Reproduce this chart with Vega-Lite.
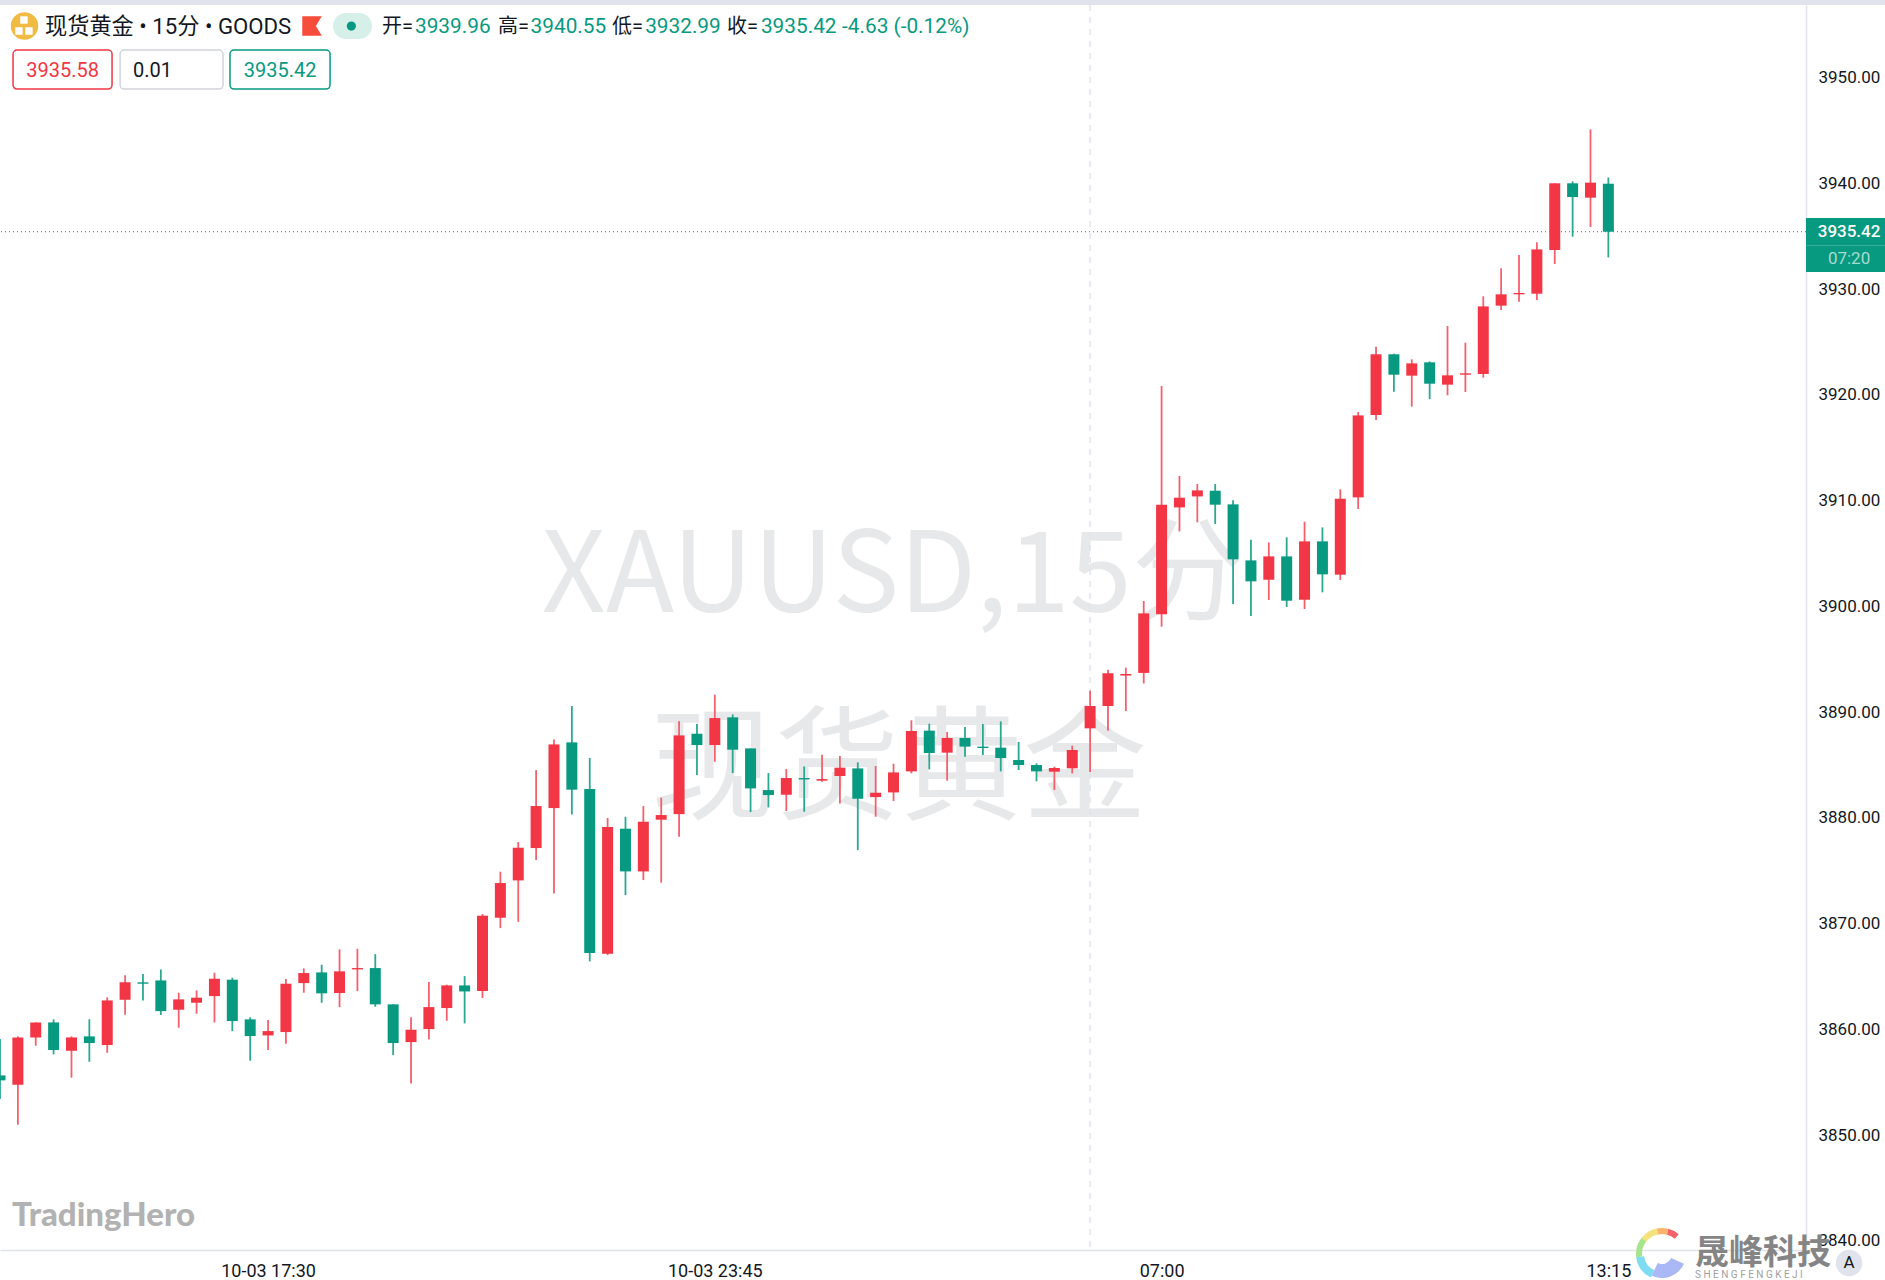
{"$schema":"https://vega.github.io/schema/vega-lite/v6.json","width":1806,"height":1245,"autosize":"none","padding":{"top":5,"left":0,"right":79,"bottom":30},"background":"white","config":{"view":{"stroke":null}},
"data":{"values":[{}]},
"datasets":{"candles":[
{"bar":0,"open":3855.64,"high":3859.08,"low":3853.40,"close":3855.17},
{"bar":1,"open":3854.76,"high":3859.33,"low":3850.98,"close":3859.23},
{"bar":2,"open":3859.23,"high":3860.65,"low":3858.45,"close":3860.65},
{"bar":3,"open":3860.65,"high":3860.94,"low":3857.63,"close":3858.04},
{"bar":4,"open":3857.97,"high":3859.33,"low":3855.42,"close":3859.23},
{"bar":5,"open":3859.33,"high":3860.94,"low":3856.93,"close":3858.70},
{"bar":6,"open":3858.51,"high":3863.02,"low":3857.78,"close":3862.73},
{"bar":7,"open":3862.80,"high":3865.10,"low":3861.38,"close":3864.44},
{"bar":8,"open":3864.44,"high":3865.22,"low":3862.73,"close":3864.31},
{"bar":9,"open":3864.62,"high":3865.66,"low":3861.35,"close":3861.72},
{"bar":10,"open":3861.85,"high":3863.46,"low":3860.15,"close":3862.83},
{"bar":11,"open":3862.51,"high":3863.68,"low":3861.47,"close":3862.99},
{"bar":12,"open":3863.14,"high":3865.35,"low":3860.65,"close":3864.78},
{"bar":13,"open":3864.69,"high":3864.88,"low":3859.83,"close":3860.78},
{"bar":14,"open":3860.94,"high":3861.13,"low":3857.03,"close":3859.36},
{"bar":15,"open":3859.42,"high":3860.87,"low":3858.04,"close":3859.83},
{"bar":16,"open":3859.74,"high":3864.75,"low":3858.64,"close":3864.31},
{"bar":17,"open":3864.37,"high":3865.76,"low":3863.46,"close":3865.32},
{"bar":18,"open":3865.38,"high":3866.11,"low":3862.51,"close":3863.40},
{"bar":19,"open":3863.43,"high":3867.56,"low":3862.10,"close":3865.48},
{"bar":20,"open":3865.66,"high":3867.62,"low":3863.62,"close":3865.79},
{"bar":21,"open":3865.79,"high":3867.11,"low":3862.13,"close":3862.36},
{"bar":22,"open":3862.36,"high":3862.36,"low":3857.56,"close":3858.70},
{"bar":23,"open":3858.79,"high":3861.13,"low":3854.88,"close":3859.96},
{"bar":24,"open":3860.02,"high":3864.47,"low":3859.05,"close":3862.10},
{"bar":25,"open":3862.01,"high":3864.22,"low":3860.81,"close":3864.15},
{"bar":26,"open":3864.15,"high":3865.03,"low":3860.56,"close":3863.58},
{"bar":27,"open":3863.62,"high":3870.90,"low":3862.95,"close":3870.74},
{"bar":28,"open":3870.55,"high":3874.90,"low":3869.57,"close":3873.83},
{"bar":29,"open":3874.08,"high":3877.71,"low":3870.17,"close":3877.17},
{"bar":30,"open":3877.14,"high":3884.51,"low":3876.00,"close":3881.11},
{"bar":31,"open":3880.92,"high":3887.41,"low":3872.85,"close":3886.94},
{"bar":32,"open":3887.13,"high":3890.57,"low":3880.32,"close":3882.66},
{"bar":33,"open":3882.72,"high":3885.65,"low":3866.42,"close":3867.21},
{"bar":34,"open":3867.15,"high":3879.98,"low":3867.02,"close":3879.12},
{"bar":35,"open":3878.97,"high":3880.10,"low":3872.69,"close":3874.93},
{"bar":36,"open":3874.93,"high":3881.11,"low":3874.11,"close":3879.63},
{"bar":37,"open":3879.82,"high":3881.90,"low":3873.86,"close":3880.26},
{"bar":38,"open":3880.35,"high":3889.12,"low":3878.21,"close":3887.79},
{"bar":39,"open":3887.95,"high":3888.86,"low":3884.04,"close":3886.88},
{"bar":40,"open":3886.88,"high":3891.64,"low":3885.30,"close":3889.43},
{"bar":41,"open":3889.50,"high":3889.78,"low":3884.23,"close":3886.44},
{"bar":42,"open":3886.56,"high":3886.56,"low":3880.54,"close":3882.78},
{"bar":43,"open":3882.62,"high":3884.23,"low":3880.98,"close":3882.15},
{"bar":44,"open":3882.18,"high":3884.61,"low":3880.64,"close":3883.76},
{"bar":45,"open":3883.76,"high":3884.86,"low":3880.57,"close":3883.63},
{"bar":46,"open":3883.51,"high":3885.97,"low":3883.41,"close":3883.66},
{"bar":47,"open":3883.95,"high":3885.84,"low":3881.36,"close":3884.74},
{"bar":48,"open":3884.67,"high":3885.24,"low":3876.95,"close":3881.80},
{"bar":49,"open":3881.96,"high":3884.89,"low":3880.10,"close":3882.37},
{"bar":50,"open":3882.40,"high":3885.11,"low":3881.58,"close":3884.29},
{"bar":51,"open":3884.39,"high":3889.22,"low":3884.20,"close":3888.21},
{"bar":52,"open":3888.24,"high":3888.90,"low":3884.58,"close":3886.13},
{"bar":53,"open":3886.16,"high":3888.11,"low":3883.51,"close":3887.55},
{"bar":54,"open":3887.55,"high":3888.59,"low":3885.78,"close":3886.73},
{"bar":55,"open":3886.73,"high":3888.87,"low":3885.94,"close":3886.60},
{"bar":56,"open":3886.63,"high":3889.12,"low":3884.39,"close":3885.65},
{"bar":57,"open":3885.46,"high":3887.17,"low":3884.52,"close":3884.99},
{"bar":58,"open":3884.99,"high":3885.15,"low":3883.45,"close":3884.39},
{"bar":59,"open":3884.36,"high":3884.83,"low":3882.63,"close":3884.71},
{"bar":60,"open":3884.68,"high":3886.82,"low":3884.20,"close":3886.41},
{"bar":61,"open":3888.46,"high":3892.02,"low":3884.33,"close":3890.57},
{"bar":62,"open":3890.57,"high":3894.00,"low":3888.24,"close":3893.67},
{"bar":63,"open":3893.45,"high":3894.20,"low":3890.10,"close":3893.60},
{"bar":64,"open":3893.70,"high":3900.50,"low":3892.70,"close":3899.33},
{"bar":65,"open":3899.24,"high":3920.83,"low":3898.07,"close":3909.61},
{"bar":66,"open":3909.35,"high":3912.32,"low":3907.08,"close":3910.27},
{"bar":67,"open":3910.39,"high":3911.56,"low":3907.94,"close":3910.96},
{"bar":68,"open":3910.93,"high":3911.56,"low":3907.78,"close":3909.61},
{"bar":69,"open":3909.64,"high":3910.02,"low":3900.21,"close":3904.44},
{"bar":70,"open":3904.34,"high":3906.30,"low":3899.08,"close":3902.36},
{"bar":71,"open":3902.51,"high":3906.04,"low":3900.59,"close":3904.72},
{"bar":72,"open":3904.72,"high":3906.52,"low":3899.93,"close":3900.53},
{"bar":73,"open":3900.62,"high":3908.00,"low":3899.74,"close":3906.14},
{"bar":74,"open":3906.14,"high":3907.46,"low":3901.32,"close":3903.02},
{"bar":75,"open":3902.99,"high":3911.06,"low":3902.48,"close":3910.17},
{"bar":76,"open":3910.30,"high":3918.37,"low":3909.20,"close":3918.05},
{"bar":77,"open":3918.09,"high":3924.55,"low":3917.62,"close":3923.83},
{"bar":78,"open":3923.83,"high":3923.89,"low":3920.29,"close":3921.90},
{"bar":79,"open":3921.81,"high":3923.35,"low":3918.88,"close":3922.97},
{"bar":80,"open":3923.07,"high":3923.16,"low":3919.60,"close":3921.05},
{"bar":81,"open":3920.96,"high":3926.50,"low":3919.95,"close":3921.84},
{"bar":82,"open":3921.90,"high":3924.93,"low":3920.26,"close":3922.03},
{"bar":83,"open":3921.97,"high":3929.31,"low":3921.62,"close":3928.36},
{"bar":84,"open":3928.43,"high":3931.96,"low":3928.02,"close":3929.50},
{"bar":85,"open":3929.50,"high":3933.22,"low":3928.81,"close":3929.63},
{"bar":86,"open":3929.56,"high":3934.42,"low":3928.96,"close":3933.75},
{"bar":87,"open":3933.69,"high":3940.00,"low":3932.37,"close":3940.00},
{"bar":88,"open":3940.00,"high":3940.18,"low":3934.95,"close":3938.70},
{"bar":89,"open":3938.64,"high":3945.10,"low":3935.87,"close":3940.06},
{"bar":90,"open":3939.96,"high":3940.55,"low":3932.99,"close":3935.42}
]},
"layer":[
{"mark":{"type":"rect","color":"#e0e3eb"},"encoding":{"x":{"datum":0,"type":"quantitative","scale":{"domain":[0,101.06],"nice":false,"zero":false,"padding":0},"axis":{"orient":"bottom","title":null,"values":[15,40,65,90],"labelExpr":"datum.value==15?'10-03 17:30':datum.value==40?'10-03 23:45':datum.value==65?'07:00':'13:15'","ticks":false,"grid":false,"domainColor":"#e0e3eb","domainWidth":1.5,"labelFont":"Roboto","labelFontSize":18,"labelColor":"#131722","labelPadding":12,"labelFlush":false,"labelOverlap":false}},"x2":{"datum":105.5},"y":{"datum":3957.33,"type":"quantitative","scale":{"domain":[3839.13,3956.86],"nice":false,"zero":false},"axis":{"orient":"right","title":null,"values":[3840,3850,3860,3870,3880,3890,3900,3910,3920,3930,3940,3950],"format":".2f","ticks":false,"grid":false,"domainColor":"#e0e3eb","domainWidth":1.5,"labelFont":"Roboto","labelFontSize":17,"labelColor":"#131722","labelPadding":12,"labelFlush":false,"labelOverlap":false}},"y2":{"datum":3956.86}}},
{"data":{"values":[{"label":"XAUUSD,15分","bar":49.95,"price":3902.7}]},"mark":{"type":"text","font":"Noto Sans CJK SC","fontSize":112,"color":"#e7e8ea","align":"center","baseline":"middle"},"encoding":{"x":{"field":"bar","type":"quantitative"},"y":{"field":"price","type":"quantitative"},"text":{"field":"label"}}},
{"data":{"values":[{"label":"现货黄金","bar":50.3,"price":3884.2}]},"mark":{"type":"text","font":"Noto Sans CJK SC","fontSize":124,"color":"#e7e8ea","align":"center","baseline":"middle"},"encoding":{"x":{"field":"bar","type":"quantitative"},"y":{"field":"price","type":"quantitative"},"text":{"field":"label"}}},
{"mark":{"type":"rule","color":"#e0e3eb","strokeDash":[6,6],"strokeWidth":1.5},"encoding":{"x":{"datum":61,"type":"quantitative"}}},
{"mark":{"type":"rule","color":"#089981","strokeDash":[1,3],"strokeWidth":1},"encoding":{"y":{"datum":3935.42,"type":"quantitative"}}},
{"data":{"name":"candles"},"mark":{"type":"rule","strokeWidth":1.8},"encoding":{"x":{"field":"bar","type":"quantitative"},"y":{"field":"low","type":"quantitative"},"y2":{"field":"high"},"color":{"condition":{"test":"datum.close>datum.open","value":"#f4606e"},"value":"#2aa892"}}},
{"data":{"name":"candles"},"mark":{"type":"bar","size":11},"encoding":{"x":{"field":"bar","type":"quantitative"},"y":{"field":"open","type":"quantitative"},"y2":{"field":"close"},"color":{"condition":{"test":"datum.close>datum.open","value":"#f23645"},"value":"#089981"}}},
{"mark":{"type":"point","filled":true,"opacity":1,"size":755,"color":"#f0bb42"},"encoding":{"x":{"datum":1.37,"type":"quantitative"},"y":{"datum":3954.87,"type":"quantitative"}}},
{"data":{"values":[{"bar":1.34,"price":3955.44},{"bar":1.06,"price":3954.40},{"bar":1.62,"price":3954.40}]},"mark":{"type":"point","shape":"square","filled":true,"opacity":1,"size":55,"color":"white"},"encoding":{"x":{"field":"bar","type":"quantitative"},"y":{"field":"price","type":"quantitative"}}},
{"mark":{"type":"point","shape":"M-1,-1L1,-1L0.4,0L1,1L-1,1Z","filled":true,"opacity":1,"size":380,"color":"#f94d3b"},"encoding":{"x":{"datum":17.46,"type":"quantitative"},"y":{"datum":3954.87,"type":"quantitative"}}},
{"mark":{"type":"rect","color":"#d6efe9","cornerRadius":13},"encoding":{"x":{"datum":18.63,"type":"quantitative"},"x2":{"datum":20.82},"y":{"datum":3956.10,"type":"quantitative"},"y2":{"datum":3953.64}}},
{"mark":{"type":"point","filled":true,"opacity":1,"size":85,"color":"#089981"},"encoding":{"x":{"datum":19.66,"type":"quantitative"},"y":{"datum":3954.87,"type":"quantitative"}}},
{"mark":{"type":"rect","fill":"white","stroke":"#f23645","strokeWidth":1.5,"cornerRadius":4},"encoding":{"x":{"datum":0.73,"type":"quantitative"},"x2":{"datum":6.27},"y":{"datum":3952.60,"type":"quantitative"},"y2":{"datum":3948.91}}},
{"mark":{"type":"rect","fill":"white","stroke":"#d1d4dc","strokeWidth":1.5,"cornerRadius":4},"encoding":{"x":{"datum":6.72,"type":"quantitative"},"x2":{"datum":12.48},"y":{"datum":3952.60,"type":"quantitative"},"y2":{"datum":3948.91}}},
{"mark":{"type":"rect","fill":"white","stroke":"#089981","strokeWidth":1.5,"cornerRadius":4},"encoding":{"x":{"datum":12.87,"type":"quantitative"},"x2":{"datum":18.47},"y":{"datum":3952.60,"type":"quantitative"},"y2":{"datum":3948.91}}},
{"data":{"values":[{"label":"现货黄金 • 15分 • GOODS","bar":2.52,"price":3954.75}]},"mark":{"type":"text","font":"Roboto, Noto Sans CJK SC","fontSize":22.2,"color":"#131722","align":"left","baseline":"middle"},"encoding":{"x":{"field":"bar","type":"quantitative"},"y":{"field":"price","type":"quantitative"},"text":{"field":"label"}}},
{"data":{"values":[{"label":"开=","bar":21.38,"price":3954.75},{"label":"高=","bar":27.87,"price":3954.75},{"label":"低=","bar":34.25,"price":3954.75},{"label":"收=","bar":40.68,"price":3954.75},{"label":"0.01","bar":7.44,"price":3950.6}]},"mark":{"type":"text","font":"Roboto, Noto Sans CJK SC","fontSize":20,"color":"#131722","align":"left","baseline":"middle"},"encoding":{"x":{"field":"bar","type":"quantitative"},"y":{"field":"price","type":"quantitative"},"text":{"field":"label"}}},
{"data":{"values":[{"label":"3939.96","bar":23.22,"price":3954.75},{"label":"3940.55","bar":29.69,"price":3954.75},{"label":"3932.99","bar":36.1,"price":3954.75},{"label":"3935.42","bar":42.58,"price":3954.75},{"label":"-4.63 (-0.12%)","bar":47.12,"price":3954.75}]},"mark":{"type":"text","font":"Roboto","fontSize":20.8,"color":"#089981","align":"left","baseline":"middle"},"encoding":{"x":{"field":"bar","type":"quantitative"},"y":{"field":"price","type":"quantitative"},"text":{"field":"label"}}},
{"mark":{"type":"text","font":"Roboto","fontSize":20,"color":"#f23645","align":"center","baseline":"middle","text":"3935.58"},"encoding":{"x":{"datum":3.5,"type":"quantitative"},"y":{"datum":3950.6,"type":"quantitative"}}},
{"mark":{"type":"text","font":"Roboto","fontSize":20,"color":"#089981","align":"center","baseline":"middle","text":"3935.42"},"encoding":{"x":{"datum":15.67,"type":"quantitative"},"y":{"datum":3950.6,"type":"quantitative"}}},
{"mark":{"type":"text","font":"Lato","fontWeight":900,"fontSize":33,"color":"#b2b2b2","align":"left","baseline":"middle","text":"TradingHero"},"encoding":{"x":{"datum":0.67,"type":"quantitative"},"y":{"datum":3842.3,"type":"quantitative"}}},
{"mark":{"type":"rect","color":"#089981"},"encoding":{"x":{"datum":101.06,"type":"quantitative"},"x2":{"datum":105.5},"y":{"datum":3936.71,"type":"quantitative"},"y2":{"datum":3931.61}}},
{"mark":{"type":"rule","color":"#3dad9a","strokeWidth":1},"encoding":{"x":{"datum":101.06,"type":"quantitative"},"x2":{"datum":105.5},"y":{"datum":3934.11,"type":"quantitative"}}},
{"mark":{"type":"text","font":"Roboto","fontWeight":500,"fontSize":17,"color":"white","align":"center","baseline":"middle","text":"3935.42"},"encoding":{"x":{"datum":103.47,"type":"quantitative"},"y":{"datum":3935.42,"type":"quantitative"}}},
{"mark":{"type":"text","font":"Roboto","fontSize":17,"color":"#a6dcd2","align":"center","baseline":"middle","text":"07:20"},"encoding":{"x":{"datum":103.47,"type":"quantitative"},"y":{"datum":3932.84,"type":"quantitative"}}},
{"mark":{"type":"point","filled":true,"opacity":1,"size":700,"color":"#e0e3eb"},"encoding":{"x":{"datum":103.47,"type":"quantitative"},"y":{"datum":3837.9,"type":"quantitative"}}},
{"mark":{"type":"text","font":"Roboto","fontSize":17,"color":"#131722","align":"center","baseline":"middle","text":"A"},"encoding":{"x":{"datum":103.47,"type":"quantitative"},"y":{"datum":3837.9,"type":"quantitative"}}},
{"mark":{"type":"arc","radius":26,"radius2":20,"theta":0.25,"theta2":0.7,"color":"#f4616a"},"encoding":{"x":{"datum":93.0,"type":"quantitative"},"y":{"datum":3838.75,"type":"quantitative"}}},
{"mark":{"type":"arc","radius":26,"radius2":20,"theta":-0.2,"theta2":0.25,"color":"#fbb36b"},"encoding":{"x":{"datum":93.0,"type":"quantitative"},"y":{"datum":3838.75,"type":"quantitative"}}},
{"mark":{"type":"arc","radius":26,"radius2":20,"theta":-0.9,"theta2":-0.2,"color":"#f5e27a"},"encoding":{"x":{"datum":93.0,"type":"quantitative"},"y":{"datum":3838.75,"type":"quantitative"}}},
{"mark":{"type":"arc","radius":26,"radius2":20,"theta":-1.7,"theta2":-0.9,"color":"#a8e48c"},"encoding":{"x":{"datum":93.0,"type":"quantitative"},"y":{"datum":3838.75,"type":"quantitative"}}},
{"mark":{"type":"arc","radius":26,"radius2":18,"theta":-2.7,"theta2":-1.7,"color":"#7fdcf2"},"encoding":{"x":{"datum":93.0,"type":"quantitative"},"y":{"datum":3838.75,"type":"quantitative"}}},
{"mark":{"type":"arc","radius":24,"radius2":10,"theta":-4.3,"theta2":-2.7,"color":"#aab9f6"},"encoding":{"x":{"datum":93.0,"type":"quantitative"},"y":{"datum":3838.75,"type":"quantitative"}}},
{"mark":{"type":"text","font":"Noto Sans CJK SC","fontWeight":"bold","fontSize":34,"color":"#858585","align":"left","baseline":"middle","text":"晟峰科技"},"encoding":{"x":{"datum":94.85,"type":"quantitative"},"y":{"datum":3838.75,"type":"quantitative"}}},
{"mark":{"type":"text","font":"Roboto","fontSize":10,"color":"#a0a0a0","align":"left","baseline":"middle","text":"S H E N G F E N G K E J I"},"encoding":{"x":{"datum":94.85,"type":"quantitative"},"y":{"datum":3836.75,"type":"quantitative"}}}
]}
